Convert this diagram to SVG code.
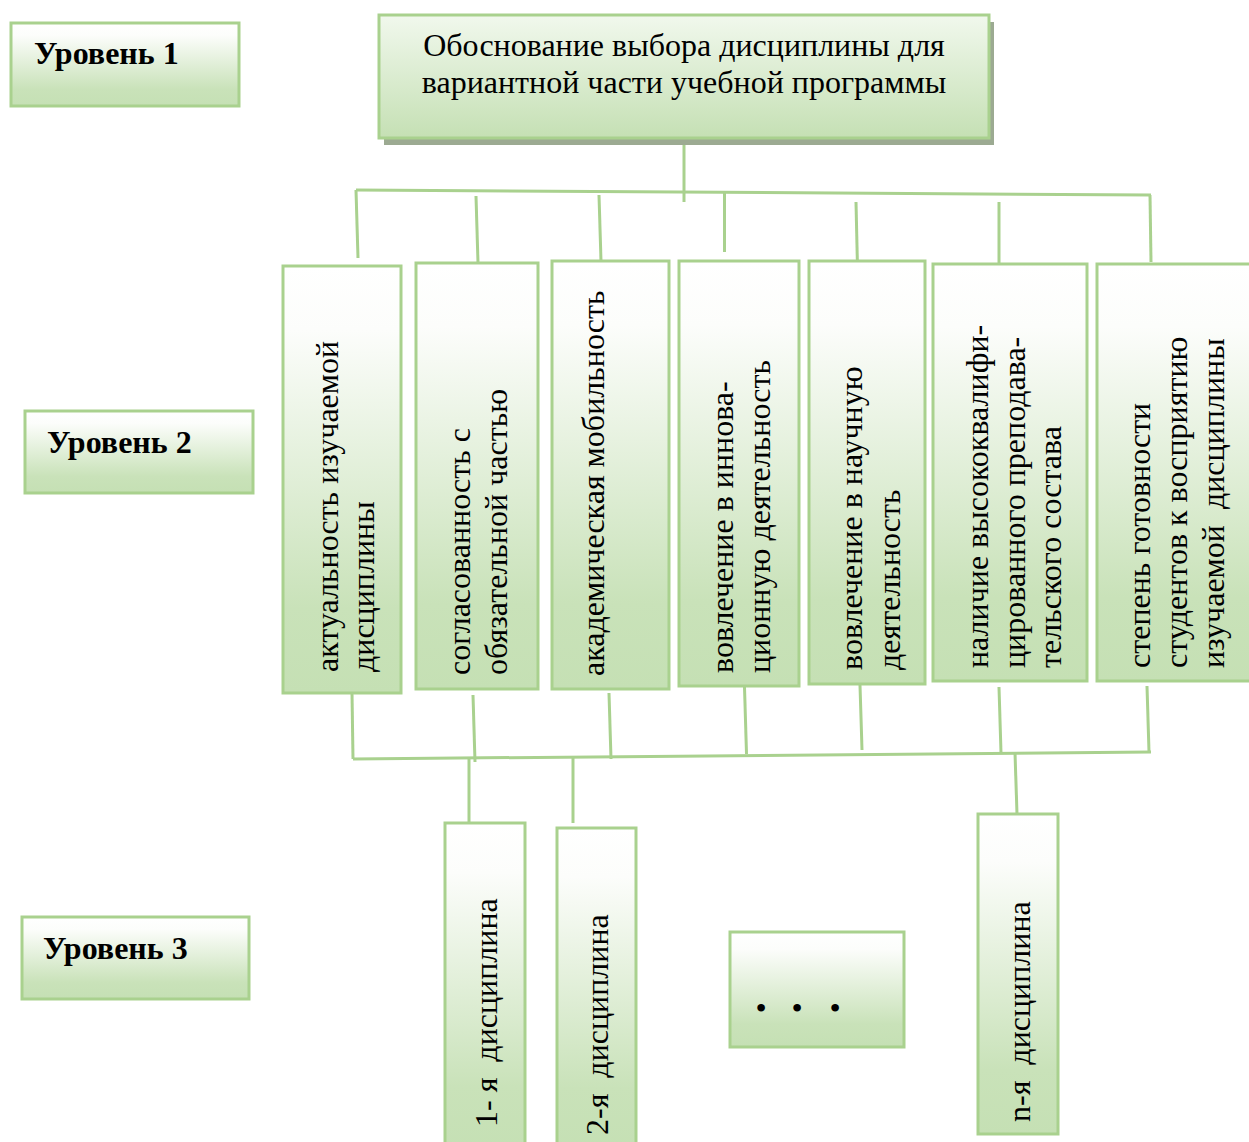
<svg xmlns="http://www.w3.org/2000/svg" width="1249" height="1142" viewBox="0 0 1249 1142">
<defs>
<linearGradient id="g" x1="0" y1="0" x2="0" y2="1">
<stop offset="0" stop-color="#ffffff"/>
<stop offset="0.15" stop-color="#fcfdfb"/>
<stop offset="0.8" stop-color="#c9e2b9"/>
<stop offset="1" stop-color="#c5e0b4"/>
</linearGradient>
<linearGradient id="gt" x1="0" y1="0" x2="0" y2="1">
<stop offset="0" stop-color="#f1f8ed"/>
<stop offset="1" stop-color="#c5e0b4"/>
</linearGradient>
<style>
.box{fill:url(#g);stroke:#a9d18e;stroke-width:3}
.top{fill:url(#gt);stroke:#a9d18e;stroke-width:3}
.t{font-family:"Liberation Serif","Times New Roman",serif;font-size:32px;fill:#000}
.lv{font-family:"Liberation Serif","Times New Roman",serif;font-size:32px;font-weight:bold;fill:#000}
.c{stroke:#a9d18e;stroke-width:3;fill:none}
</style>
</defs>
<g id="connectors">
<line class="c" x1="684" y1="138" x2="684" y2="202"/>
<line class="c" x1="356" y1="190" x2="1151" y2="195"/>
<line class="c" x1="356" y1="190" x2="358" y2="258"/>
<line class="c" x1="476" y1="196" x2="478" y2="263"/>
<line class="c" x1="599" y1="195" x2="601" y2="261"/>
<line class="c" x1="724.5" y1="193" x2="724.5" y2="252"/>
<line class="c" x1="856" y1="202" x2="857.5" y2="268"/>
<line class="c" x1="999" y1="202" x2="999" y2="263"/>
<line class="c" x1="1150" y1="195" x2="1151" y2="262"/>
<line class="c" x1="352" y1="693" x2="353" y2="759"/>
<line class="c" x1="473" y1="695" x2="475" y2="762"/>
<line class="c" x1="609" y1="693" x2="611" y2="759"/>
<line class="c" x1="744.5" y1="687" x2="746.5" y2="754"/>
<line class="c" x1="860" y1="685" x2="862" y2="750"/>
<line class="c" x1="999" y1="687" x2="1001" y2="753"/>
<line class="c" x1="1147" y1="686" x2="1149" y2="752"/>
<line class="c" x1="353" y1="759" x2="1151" y2="752"/>
<line class="c" x1="469" y1="759" x2="469" y2="823"/>
<line class="c" x1="573" y1="758" x2="573" y2="823"/>
<line class="c" x1="1015" y1="753" x2="1017" y2="814"/>
</g>
<g id="level1">
<rect class="box" x="11" y="23" width="228" height="83"/>
<text class="lv" x="34" y="64">Уровень 1</text>
</g>
<g id="level2">
<rect class="box" x="25" y="411" width="228" height="82"/>
<text class="lv" x="47" y="453">Уровень 2</text>
</g>
<g id="level3">
<rect class="box" x="22" y="917" width="227" height="82"/>
<text class="lv" x="43" y="959">Уровень 3</text>
</g>
<g id="root">
<rect x="384" y="22" width="610" height="123" fill="#9caa92"/>
<rect class="top" x="379" y="15" width="610" height="123"/>
<text class="t" x="684" y="56" text-anchor="middle">Обоснование выбора дисциплины для</text>
<text class="t" x="684" y="93" text-anchor="middle">вариантной части учебной программы</text>
</g>
<g id="c1">
<rect class="box" x="283" y="266" width="118" height="427"/>
<text class="t" transform="translate(338,672) rotate(-90)"><tspan x="0" y="0">актуальность изучаемой</tspan><tspan x="0" y="36">дисциплины</tspan></text>
</g>
<g id="c2">
<rect class="box" x="416" y="263" width="122" height="426"/>
<text class="t" transform="translate(470,675) rotate(-90)"><tspan x="0" y="0">согласованность с</tspan><tspan x="0" y="37">обязательной частью</tspan></text>
</g>
<g id="c3">
<rect class="box" x="552" y="261" width="117" height="428"/>
<text class="t" transform="translate(604,676) rotate(-90)">академическая мобильность</text>
</g>
<g id="c4">
<rect class="box" x="679" y="261" width="120" height="425"/>
<text class="t" transform="translate(733,673) rotate(-90)"><tspan x="0" y="0">вовлечение в иннова-</tspan><tspan x="0" y="37">ционную деятельность</tspan></text>
</g>
<g id="c5">
<rect class="box" x="809" y="261" width="116" height="423"/>
<text class="t" transform="translate(862,670) rotate(-90)"><tspan x="0" y="0">вовлечение в научную</tspan><tspan x="0" y="38">деятельность</tspan></text>
</g>
<g id="c6">
<rect class="box" x="933" y="264" width="154" height="417"/>
<text class="t" transform="translate(988,668) rotate(-90)"><tspan x="0" y="0">наличие высококвалифи-</tspan><tspan x="0" y="37">цированного преподава-</tspan><tspan x="0" y="73">тельского состава</tspan></text>
</g>
<g id="c7">
<rect class="box" x="1097" y="264" width="165" height="417"/>
<text class="t" xml:space="preserve" transform="translate(1150,668) rotate(-90)"><tspan x="0" y="0">степень готовности</tspan><tspan x="0" y="37">студентов к восприятию</tspan><tspan x="0" y="74">изучаемой  дисциплины</tspan></text>
</g>
<g id="d1">
<rect class="box" x="445" y="823" width="80" height="330"/>
<text class="t" xml:space="preserve" transform="translate(497,1127) rotate(-90)">1- я  дисциплина</text>
</g>
<g id="d2">
<rect class="box" x="557" y="828" width="79" height="325"/>
<text class="t" xml:space="preserve" transform="translate(608,1135) rotate(-90)">2-я  дисциплина</text>
</g>
<g id="dots">
<rect class="box" x="730" y="932" width="174" height="115"/>
<text class="t" font-size="30" text-anchor="middle"><tspan x="761" y="1019">•</tspan><tspan x="797" y="1019">•</tspan><tspan x="835" y="1019">•</tspan></text>
</g>
<g id="dn">
<rect class="box" x="978" y="814" width="80" height="320"/>
<text class="t" xml:space="preserve" transform="translate(1030,1122) rotate(-90)">n-я  дисциплина</text>
</g>
</svg>
